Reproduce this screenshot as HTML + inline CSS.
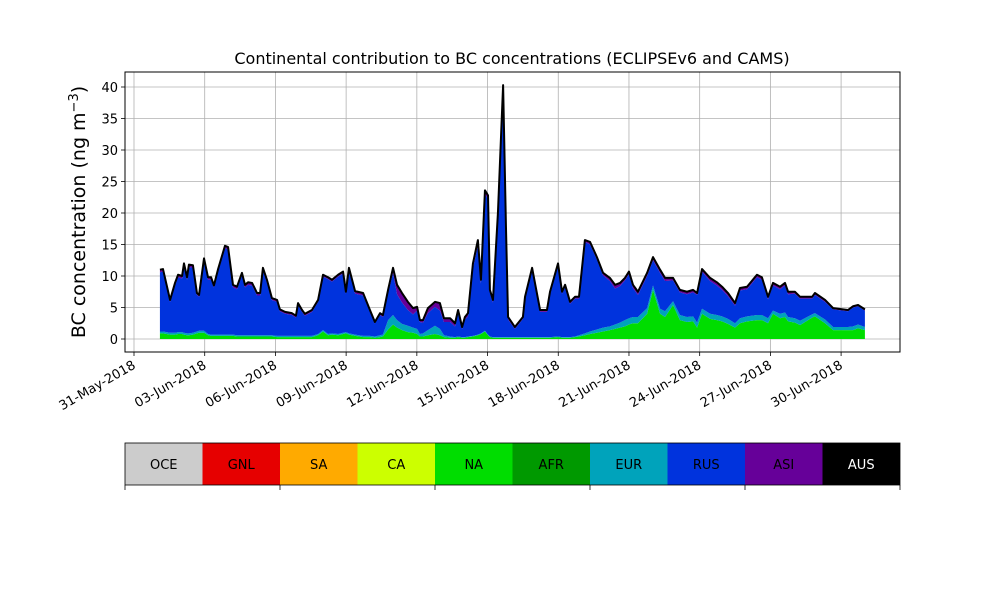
<!DOCTYPE html>
<html><head><meta charset="utf-8">
<style>
body{margin:0;background:#fff;}
svg{display:block;font-family:"DejaVu Sans","Liberation Sans",sans-serif;}
</style></head>
<body>
<svg id="chart" width="1000" height="600" viewBox="0 0 1000 600" xmlns="http://www.w3.org/2000/svg">
<rect width="1000" height="600" fill="#fff"/>
<text x="512" y="64" font-size="16" text-anchor="middle">Continental contribution to BC concentrations (ECLIPSEv6 and CAMS)</text>
<text transform="translate(85,212) rotate(-90)" font-size="19" text-anchor="middle">BC concentration (ng m<tspan baseline-shift="super" font-size="13">−3</tspan>)</text>
<g id="grid"></g><g id="areas"></g><g id="axes"></g><g id="legend"></g>
</svg>
<script>
const days=[1.10,1.23,1.53,1.74,1.87,2.04,2.12,2.25,2.33,2.50,2.67,2.76,2.97,3.14,3.27,3.39,3.56,3.86,3.99,4.20,4.37,4.58,4.71,4.84,5.01,5.22,5.35,5.47,5.64,5.85,6.07,6.19,6.41,6.70,6.87,6.96,7.13,7.25,7.55,7.81,8.02,8.23,8.40,8.66,8.87,8.99,9.12,9.38,9.72,10.01,10.22,10.44,10.56,10.78,10.99,11.16,11.37,11.62,11.84,12.01,12.13,12.26,12.47,12.77,12.98,13.15,13.41,13.62,13.75,13.92,14.04,14.17,14.38,14.59,14.72,14.89,15.02,15.10,15.23,15.44,15.66,15.78,15.87,16.16,16.50,16.59,16.89,17.23,17.52,17.65,17.99,18.16,18.29,18.50,18.71,18.88,19.13,19.35,19.64,19.90,20.19,20.41,20.62,20.83,21.00,21.17,21.38,21.77,22.02,22.32,22.53,22.87,23.16,23.46,23.72,23.89,24.10,24.44,24.73,24.95,25.20,25.50,25.71,26.01,26.43,26.64,26.90,27.11,27.41,27.62,27.75,28.04,28.26,28.77,28.89,29.32,29.66,30.29,30.51,30.72,31.01];
const total=[11.0,11.1,6.2,8.9,10.2,10.0,12.0,9.8,11.8,11.7,7.3,7.0,12.8,9.8,9.8,8.5,11.0,14.8,14.6,8.6,8.3,10.5,8.6,9.0,8.9,7.3,7.3,11.3,9.4,6.5,6.2,4.7,4.3,4.1,3.7,5.7,4.6,4.0,4.6,6.2,10.2,9.8,9.4,10.2,10.7,7.5,11.3,7.6,7.3,4.6,2.7,4.1,3.8,7.8,11.3,8.6,7.3,5.9,4.9,5.1,3.0,3.0,4.9,5.9,5.7,3.3,3.3,2.5,4.6,1.9,3.5,4.1,12.0,15.7,9.4,23.6,22.8,7.8,6.2,20.0,40.3,18.0,3.5,1.9,3.5,6.7,11.3,4.6,4.6,7.5,12.0,7.5,8.6,5.9,6.7,6.7,15.7,15.4,13.0,10.5,9.7,8.6,8.9,9.7,10.7,8.6,7.5,10.5,13.0,11.0,9.7,9.7,7.8,7.5,7.8,7.3,11.1,9.7,9.0,8.3,7.3,5.7,8.1,8.3,10.2,9.8,6.7,8.9,8.3,8.9,7.5,7.5,6.7,6.7,7.3,6.2,4.9,4.6,5.2,5.4,4.7];
const naVals=[0.9,0.9,0.7,0.7,0.8,0.8,0.7,0.6,0.6,0.7,0.9,1.0,1.0,0.6,0.5,0.5,0.5,0.5,0.5,0.5,0.4,0.4,0.4,0.4,0.4,0.4,0.4,0.4,0.4,0.4,0.3,0.3,0.3,0.3,0.3,0.3,0.3,0.3,0.3,0.6,1.2,0.6,0.7,0.6,0.8,0.9,0.7,0.5,0.3,0.3,0.2,0.3,0.4,1.5,2.3,1.8,1.4,1.1,1.0,0.8,0.4,0.4,0.6,0.8,0.6,0.3,0.2,0.2,0.3,0.2,0.2,0.3,0.4,0.6,0.8,1.2,0.6,0.3,0.2,0.2,0.2,0.2,0.2,0.2,0.2,0.2,0.2,0.2,0.2,0.2,0.3,0.2,0.2,0.2,0.3,0.4,0.6,0.8,1.0,1.2,1.4,1.6,1.8,2.0,2.3,2.5,2.5,4.0,7.8,4.0,3.5,5.4,3.0,2.7,2.8,1.8,4.0,3.2,3.0,2.8,2.4,1.8,2.5,2.8,3.0,3.0,2.5,4.0,3.3,3.5,2.8,2.6,2.2,3.4,3.6,2.5,1.4,1.4,1.4,1.7,1.4];
const eurVals=[0.3,0.3,0.3,0.3,0.3,0.3,0.3,0.3,0.3,0.3,0.3,0.3,0.3,0.2,0.2,0.2,0.2,0.2,0.2,0.2,0.2,0.2,0.2,0.2,0.2,0.2,0.2,0.2,0.2,0.2,0.2,0.2,0.2,0.2,0.2,0.2,0.2,0.2,0.2,0.2,0.2,0.2,0.2,0.2,0.2,0.2,0.2,0.2,0.2,0.2,0.2,0.3,0.3,1.5,1.5,1.2,1.0,1.0,0.8,0.8,0.4,0.5,0.8,1.3,1.0,0.3,0.2,0.1,0.1,0.1,0.1,0.1,0.1,0.1,0.1,0.1,0.1,0.1,0.1,0.1,0.1,0.1,0.1,0.1,0.1,0.1,0.1,0.1,0.1,0.1,0.1,0.1,0.1,0.1,0.1,0.2,0.3,0.4,0.5,0.6,0.6,0.7,0.8,1.0,1.0,1.0,1.0,0.9,0.7,0.8,0.9,0.6,0.8,0.8,0.8,0.8,0.8,0.8,0.8,0.8,0.8,0.7,0.8,0.8,0.8,0.8,0.8,0.5,0.7,0.7,0.7,0.7,0.7,0.5,0.5,0.6,0.5,0.5,0.6,0.6,0.5];
const asiVals=[0.4,0.4,0.3,0.4,0.4,0.4,0.4,0.4,0.4,0.4,0.3,0.3,0.4,0.4,0.4,0.3,0.4,0.4,0.4,0.4,0.4,0.4,0.4,0.4,0.4,0.4,0.4,0.4,0.5,0.3,0.3,0.3,0.3,0.3,0.3,0.3,0.3,0.3,0.3,0.3,0.3,0.3,0.3,0.3,0.3,0.3,0.3,0.4,0.4,0.3,0.2,0.3,0.3,0.5,0.8,1.5,1.5,1.3,1.0,0.6,0.3,0.4,0.8,0.8,1.2,0.6,0.6,0.5,0.5,0.3,0.4,0.5,0.8,0.8,0.6,0.6,0.6,0.4,0.4,0.4,0.5,0.5,0.4,0.3,0.3,0.3,0.3,0.3,0.3,0.3,0.3,0.3,0.3,0.3,0.3,0.3,0.3,0.4,0.4,0.4,0.5,0.6,0.5,0.4,0.4,0.5,0.5,0.5,0.5,0.5,0.5,0.4,0.4,0.4,0.4,0.3,0.4,0.5,0.5,0.5,0.5,0.4,0.4,0.4,0.4,0.4,0.4,0.4,0.4,0.4,0.4,0.3,0.3,0.3,0.3,0.3,0.2,0.2,0.2,0.2,0.2];
const yTicks=[0,5,10,15,20,25,30,35,40];
const xTickDays=[0,3,6,9,12,15,18,21,24,27,30];
const xTickLabels=["31-May-2018","03-Jun-2018","06-Jun-2018","09-Jun-2018","12-Jun-2018","15-Jun-2018","18-Jun-2018","21-Jun-2018","24-Jun-2018","27-Jun-2018","30-Jun-2018"];
const regions=["OCE","GNL","SA","CA","NA","AFR","EUR","RUS","ASI","AUS"];
const regionColors=["#cccccc","#e60000","#ffaa00","#ccff00","#00dd00","#009900","#00a3bb","#0033dd","#660099","#000000"];

const NS="http://www.w3.org/2000/svg";
const L=125,R=900,T=72,B=352;
const xs=d=>134+d*23.57;
const ys=v=>339-v*6.3;
function mk(tag,attrs,parent){const e=document.createElementNS(NS,tag);for(const k in attrs)e.setAttribute(k,attrs[k]);parent.appendChild(e);return e;}
const grid=document.getElementById('grid'),areas=document.getElementById('areas'),axes=document.getElementById('axes'),legend=document.getElementById('legend');

xTickDays.forEach((d,i)=>{
  const x=xs(d);
  const g=mk('line',{x1:x,x2:x,y1:T,y2:B,stroke:'#b0b0b0','stroke-width':0.8},grid);
  
  
  const t=mk('line',{x1:x,x2:x,y1:B,y2:B+4,stroke:'#000','stroke-width':0.8},axes);
  
  
  const lb=mk('text',{transform:`translate(${x-2},${B+8}) rotate(-30)`,'font-size':13,'text-anchor':'end','dominant-baseline':'hanging'},axes);
  lb.textContent=xTickLabels[i];
  
  
});
yTicks.forEach(v=>{
  const y=ys(v);
  const g=mk('line',{x1:L,x2:R,y1:y,y2:y,stroke:'#b0b0b0','stroke-width':0.8},grid);
  
  
  const t=mk('line',{x1:L-4,x2:L,y1:y,y2:y,stroke:'#000','stroke-width':0.8},axes);
  
  
  const lb=mk('text',{x:L-7,y:y+5,'font-size':13,'text-anchor':'end'},axes);
  lb.textContent=String(v);
  
  
});

const n=days.length;
const base0=days.map(()=>0);
const c1=naVals.slice();
const c2=c1.map((v,i)=>v+eurVals[i]);
const c3=total.map((v,i)=>v-asiVals[i]);
const c4=total.slice();
function band(lo,hi,color,name){
  let d='M'+xs(days[0])+','+ys(hi[0]);
  for(let i=1;i<n;i++)d+='L'+xs(days[i])+','+ys(hi[i]);
  for(let i=n-1;i>=0;i--)d+='L'+xs(days[i])+','+ys(lo[i]);
  const p=mk('path',{d:d+'Z',fill:color,stroke:'none'},areas);
  
  
}
band(base0,c1,regionColors[4],'area-na');
band(c1,c2,regionColors[6],'area-eur');
band(c2,c3,regionColors[7],'area-rus');
band(c3,c4,regionColors[8],'area-asi');
let ld='';
for(let i=0;i<n;i++)ld+=(i?'L':'M')+xs(days[i])+','+ys(total[i]);
const tl=mk('path',{d:ld,fill:'none',stroke:'#000','stroke-width':2,'stroke-linejoin':'round'},areas);



const frame=mk('rect',{x:L,y:T,width:R-L,height:B-T,fill:'none',stroke:'#000','stroke-width':1},axes);



const cw=(R-L)/regions.length;
regions.forEach((r,i)=>{
  const rc=mk('rect',{x:L+i*cw,y:443,width:cw,height:42,fill:regionColors[i]},legend);
  
  
  const tx=mk('text',{x:L+i*cw+cw/2,y:469,'font-size':13,'text-anchor':'middle',fill:r==='AUS'?'#fff':'#000'},legend);
  tx.textContent=r;
  
  
});
const lf=mk('rect',{x:L,y:443,width:R-L,height:42,fill:'none',stroke:'#000','stroke-width':0.8},legend);


for(let i=0;i<=regions.length;i+=2){
  const tk=mk('line',{x1:L+i*cw,x2:L+i*cw,y1:485,y2:490,stroke:'#000','stroke-width':0.8},legend);
  
  
}
</script>
</body></html>
